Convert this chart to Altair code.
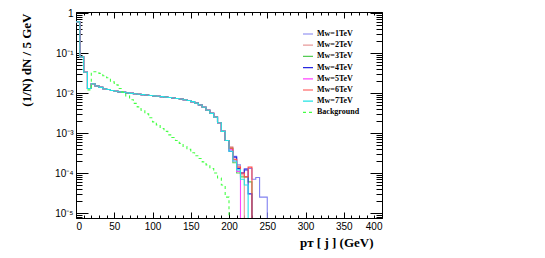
import altair as alt
import pandas as pd

# ---------------- data ----------------
bin_width = 5
series_names = ["Mᴡ=1TeV", "Mᴡ=2TeV", "Mᴡ=3TeV", "Mᴡ=4TeV",
                "Mᴡ=5TeV", "Mᴡ=6TeV", "Mᴡ=7TeV", "Background"]
series_colors = ["#8080f0", "#e89a9a", "#55cc55", "#2828e0",
                 "#ff44ff", "#ff4848", "#22e4e4", "#44ff44"]
series_dash = [[1, 0]] * 7 + [[3, 3]]

# common body of the signal histograms, bins 0..195 GeV (left edges)
sig_body = [0.60, 0.080, 0.033, 0.0130, 0.0170, 0.0150, 0.0138, 0.0128,
            0.0122, 0.0116, 0.0111, 0.0107, 0.0104, 0.0101, 0.0098, 0.0096,
            0.0093, 0.0091, 0.0089, 0.0087, 0.0085, 0.0083, 0.0081, 0.0079,
            0.0077, 0.0075, 0.0073, 0.0071, 0.0068, 0.0065, 0.0061, 0.0056,
            0.0050, 0.0044, 0.0037, 0.0031, 0.0025, 0.0018, 0.0011, 0.00065]
# tails, bins from 200 GeV on
tail_1tev = [4.0e-4, 2.6e-4, 1.6e-4, 1.0e-4, 1.3e-4, 1.3e-4, 7.0e-5, 7.7e-5, 2.5e-5, 2.5e-5]
tail_2tev = [4.5e-4, 2.2e-4, 1.5e-4, 9.0e-5]
tail_3tev = [4.2e-4, 1.8e-4, 1.0e-4, 8.0e-5, 8.0e-5, 6.0e-5]
tail_4tev = [3.5e-4, 2.5e-4, 1.3e-4, 1.0e-4, 1.2e-4, 3.0e-5]
tail_5tev = [3.8e-4, 2.0e-4, 1.1e-4]
tail_6tev = [4.2e-4, 2.2e-4, 1.4e-4, 1.0e-4, 8.0e-5, 1.4e-4]
tail_7tev = [3.5e-4, 2.0e-4, 1.2e-4, 7.0e-5, 5.0e-5]
signal_tails = [tail_1tev, tail_2tev, tail_3tev, tail_4tev,
                tail_5tev, tail_6tev, tail_7tev]

# background, bins 15..195 GeV
bg_start = 15
bg_vals = [0.012, 0.034, 0.034, 0.031, 0.027, 0.024, 0.019, 0.016, 0.013,
           0.0105, 0.0085, 0.0068, 0.0055, 0.0045, 0.0037, 0.0030, 0.0024,
           0.0019, 0.0016, 0.0013, 0.0011, 0.0009, 0.00077, 0.00065,
           0.00055, 0.00046, 0.00039, 0.00032, 0.00027, 0.00023, 0.00019,
           0.00016, 0.00013, 0.00010, 7.5e-5, 5.0e-5, 2.5e-5]

x_labels = [0, 50, 100, 150, 200, 250, 300, 350, 400]
x_minor = list(range(0, 401, 10))
y_major = [1e-5, 1e-4, 1e-3, 1e-2, 1e-1, 1.0]
y_minor = [m * d for d in [1e-6, 1e-5, 1e-4, 1e-3, 1e-2, 1e-1]
           for m in range(2, 10) if m * d >= 7.5e-6]

# ---------------- build long table ----------------
FLOOR = 1e-9
rows = []
def add_hist(name, start, vals, order):
    idx = 0
    for i, v in enumerate(vals):
        rows.append(dict(series=name, x=start + i * bin_width, y=v, idx=idx, k=order)); idx += 1
    end = start + len(vals) * bin_width
    rows.append(dict(series=name, x=end, y=vals[-1], idx=idx, k=order)); idx += 1
    rows.append(dict(series=name, x=end, y=FLOOR, idx=idx, k=order))

for i, tail in enumerate(signal_tails):
    add_hist(series_names[i], 0, sig_body + tail, i)
add_hist(series_names[7], bg_start, bg_vals, 7)
df = pd.DataFrame(rows)

W, H = 306, 206
xs = alt.Scale(type="linear", domain=[0, 400], nice=False, zero=False)
ys = alt.Scale(type="log", domain=[7.5e-6, 1.06], nice=False)

sup = "['⁻¹','⁻²','⁻³','⁻⁴','⁻⁵','⁻⁶']"
y_label_expr = ("datum.value >= 0.99 ? '1' : '10' + " + sup +
                "[round(-log(datum.value)/LN10) - 1]")

legend_kw = dict(title=None, orient="none", legendX=226, legendY=16,
                 symbolType="stroke", symbolSize=100, symbolStrokeWidth=1.2,
                 labelFont="Liberation Serif", labelFontWeight="bold",
                 labelFontSize=8, labelColor="black", labelOffset=3,
                 rowPadding=1.2, padding=0)

lines = alt.Chart(df).mark_line(interpolate="step-after", clip=True,
                                strokeWidth=1.1).encode(
    x=alt.X("x:Q", scale=xs, axis=alt.Axis(
        orient="bottom", values=x_labels, ticks=False, domain=False, grid=False,
        labelFont="Liberation Sans", labelFontSize=10, labelPadding=3,
        labelColor="black",
        title="pᴛ [ j ] (GeV)", titleFont="Liberation Serif", titleFontWeight="bold",
        titleFontSize=13, titleColor="black", titleX=297, titleY=28,
        titleAlign="right", titleBaseline="alphabetic", titleAnchor="end")),
    y=alt.Y("y:Q", scale=ys, axis=alt.Axis(
        orient="left", values=y_major, ticks=False, domain=False, grid=False,
        labelExpr=y_label_expr, labelFont="Liberation Sans", labelFontSize=10,
        labelPadding=3, labelColor="black",
        title="(1/N) dN / 5 GeV", titleFont="Liberation Serif", titleFontWeight="bold",
        titleFontSize=13, titleColor="black", titleX=-43, titleY=1,
        titleAngle=-90, titleAlign="right", titleBaseline="bottom")),
    color=alt.Color("series:N", scale=alt.Scale(domain=series_names, range=series_colors),
                    sort=series_names, legend=alt.Legend(**legend_kw)),
    strokeDash=alt.StrokeDash("series:N", scale=alt.Scale(domain=series_names, range=series_dash),
                              sort=series_names, legend=alt.Legend(**legend_kw)),
    order=alt.Order("idx:Q"),
    detail="k:N",
)

def tick_layer(channel, orient, offset, values, size):
    ax = alt.Axis(orient=orient, offset=offset, values=values, labels=False,
                  domain=False, grid=False, tickSize=size, tickColor="black",
                  tickWidth=1, title=None)
    base = alt.Chart(df).mark_point(opacity=0, size=0)
    if channel == "y":
        return base.encode(y=alt.Y("y:Q", scale=ys, axis=ax))
    return base.encode(x=alt.X("x:Q", scale=xs, axis=ax))

layers = [
    lines,
    tick_layer("y", "right", -W, y_major, 12),
    tick_layer("y", "right", -W, y_minor, 6),
    tick_layer("y", "left", -W, y_major, 12),
    tick_layer("y", "left", -W, y_minor, 6),
    tick_layer("x", "top", -H, x_labels, 6),
    tick_layer("x", "top", -H, x_minor, 3),
    tick_layer("x", "bottom", -H, x_labels, 6),
    tick_layer("x", "bottom", -H, x_minor, 3),
]

chart = alt.layer(*layers).resolve_axis(x="independent", y="independent").properties(
    width=W, height=H,
    padding={"left": 68, "top": 4, "right": 155, "bottom": 32},
    autosize=alt.AutoSizeParams(type="none"),
    background="white",
).configure_view(stroke="black", strokeWidth=1)

chart.save("out.html", embed_options={"renderer": "svg", "actions": False})
